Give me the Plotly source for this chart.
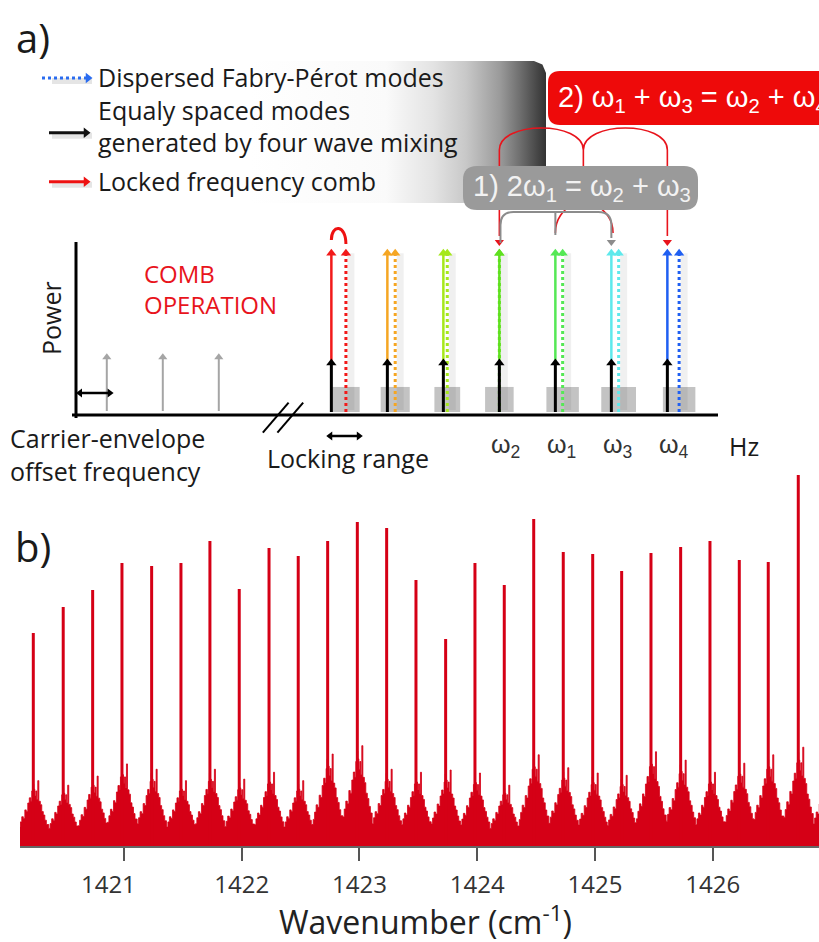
import plotly.graph_objects as go

W, H = 819, 942

# ---------------- Panel b data (wavenumber spectrum) ----------------
peak_wn = [1420.230, 1420.484, 1420.734, 1420.983, 1421.235, 1421.484, 1421.730,
           1421.979, 1422.232, 1422.480, 1422.730, 1422.982, 1423.231, 1423.480,
           1423.732, 1423.981, 1424.230, 1424.480, 1424.731, 1424.981, 1425.227,
           1425.476, 1425.728, 1425.977, 1426.226, 1426.472, 1426.727]
peak_height = [213, 239, 256, 283, 280, 283, 305, 257, 298, 290, 305, 324, 318, 266,
               207, 283, 261, 327, 294, 292, 275, 293, 299, 305, 286, 284, 371]
# background cluster (four-wave-mixing side structure) around every comb line
cluster_center = peak_wn + [1426.977]
cluster_scale = [0.86, 0.80, 0.92, 1.08, 1.01, 0.86, 1.01, 0.88, 0.97, 0.86, 1.21, 1.32,
                 1.01, 0.97, 1.00, 0.96, 0.80, 1.20, 1.03, 0.96, 0.93, 1.24, 1.13, 0.97,
                 1.09, 1.20, 1.30, 1.00]
bg_offset = [-0.123, -0.111, -0.098, -0.085, -0.072, -0.060, -0.047, -0.034, -0.021,
             -0.013, -0.004, 0.004, 0.013, 0.021, 0.030, 0.038, 0.047, 0.060, 0.072,
             0.085, 0.098, 0.111]
bg_height = [22, 28, 34, 32, 42, 40, 50, 56, 52, 64, 72, 66, 58, 64, 54, 76, 52, 48,
             40, 36, 30, 25]
wn_ticks = [1421, 1422, 1423, 1424, 1425, 1426]
wn_ticktext = ['1421\u00a0\u00a0\u00a0\u00a0\u00a0', '1422', '1423', '1424', '1425', '1426']
wn_range = [1420.117, 1426.903]

# ---------------- Panel a data (schematic, arbitrary units) ----------------
free_modes = [0.55, 1.55, 2.55]                 # modes left of the axis break
comb_freq = [4.56, 5.56, 6.56, 7.56, 8.56, 9.56, 10.56]   # equally spaced (FWM / locked)
fp_freq = [4.82, 5.70, 6.63, 7.56, 8.69, 9.69, 10.77]     # dispersed Fabry-Perot modes
lock_width = [0.49, 0.52, 0.46, 0.51, 0.58, 0.62, 0.58]
mode_colors = ['#f21a1a', '#f5a623', '#a6e81c', '#5fe01f', '#55e855', '#5ee9ec', '#1f5ff2']
mode_labels = ['', '', '', 'ω<sub>2</sub>', 'ω<sub>1</sub>', 'ω<sub>3</sub>', 'ω<sub>4</sub>']
fwm_power = 0.315
comb_power = 1.0
free_power = 0.35
lock_box_top = 0.17

RED = '#d50016'
TXT = '#1a1a1a'

# pixel helpers (layout only)
def fx(px): return px / W
def fy(py): return 1 - py / H
X0, XS, Y0, YS = 76.0, 56.0, 415.0, 165.0
def U(px): return (px - X0) / XS
def V(py): return (Y0 - py) / YS
def PX(u): return X0 + XS * u

fig = go.Figure()

# ---------------- Panel b traces ----------------
bg_x, bg_y = [], []
for c, s in zip(cluster_center, cluster_scale):
    for o, h in zip(bg_offset, bg_height):
        bg_x.append(c + o)
        bg_y.append(h * s)
fig.add_trace(go.Scatter(x=bg_x, y=bg_y, mode='lines', fill='tozeroy', fillcolor=RED,
                         line=dict(color=RED, width=0.8, shape='hv'),
                         hoverinfo='skip', showlegend=False, xaxis='x', yaxis='y'))
pk_x, pk_y = [], []
for p, h in zip(peak_wn, peak_height):
    pk_x += [p, p, None]
    pk_y += [0, h, None]
fig.add_trace(go.Scatter(x=pk_x, y=pk_y, mode='lines', line=dict(color=RED, width=3),
                         hoverinfo='skip', showlegend=False, xaxis='x', yaxis='y'))

# ---------------- Panel a helpers ----------------
def line2(xs, ys, color, width=3, dash='solid'):
    fig.add_trace(go.Scatter(x=xs, y=ys, mode='lines',
                             line=dict(color=color, width=width, dash=dash),
                             hoverinfo='skip', showlegend=False, xaxis='x2', yaxis='y2'))

def head(x, y, color, symbol, size=9):
    fig.add_trace(go.Scatter(x=[x], y=[y], mode='markers',
                             marker=dict(symbol=symbol, size=size, color=color, line=dict(width=0)),
                             hoverinfo='skip', showlegend=False, xaxis='x2', yaxis='y2'))

def arrow_up(x, y0, y1, color, width=3, dash='solid', size=9):
    line2([x, x], [y0, y1], color, width, dash)
    head(x, y1, color, 'triangle-up', size)

def arrow_h(x0, x1, y, color, width=3, dash='solid', both=False, size=9):
    line2([x0, x1], [y, y], color, width, dash)
    head(x1, y, color, 'triangle-right', size)
    if both:
        head(x0, y, color, 'triangle-left', size)

# legend gradient box (trace with horizontal fill gradient)
bl, br, bt, bb, rr = 250, 546, 61, 203, 12
box_px = [(bl, bt), (br - rr, bt), (br - rr * 0.3, bt + rr * 0.3), (br, bt + rr), (br, bb), (bl, bb), (bl, bt)]
fig.add_trace(go.Scatter(x=[U(p[0]) for p in box_px], y=[V(p[1]) for p in box_px],
                         mode='lines', line=dict(width=0), fill='toself',
                         fillgradient=dict(type='horizontal', start=U(bl), stop=U(br),
                                           colorscale=[[0, '#ffffff'], [0.46, '#fafafa'],
                                                       [0.62, '#e3e3e3'], [0.73, '#c8c8c8'],
                                                       [0.845, '#9a9a9a'], [0.91, '#707070'],
                                                       [0.98, '#404040'], [1, '#333333']]),
                         hoverinfo='skip', showlegend=False, xaxis='x2', yaxis='y2'))

# legend symbols (with soft shadows)
for yy in [78, 132.7, 181.7]:
    line2([U(52), U(92)], [V(yy + 3), V(yy + 3)], 'rgba(0,0,0,0.10)', 6)
arrow_h(U(42), U(88), V(78), '#2a6cf0', width=3, dash='dot')
arrow_h(U(49), U(86), V(132.7), '#111111', width=3)
arrow_h(U(49), U(86), V(181.7), '#ee1111', width=3)

# diagram axes
line2([0, 0], [V(418), V(242)], '#000000', 3)
line2([U(72), U(718)], [0, 0], '#000000', 3)
axis_break = U(283)
for d in [-0.13, 0.13]:
    line2([axis_break + d - 0.23, axis_break + d + 0.23], [-0.107, 0.075], '#000000', 2)

# free-running (below the break) modes
for f in free_modes:
    arrow_up(f, V(411), free_power, '#a5a5a5', width=2, size=8)
# carrier-envelope offset arrow
arrow_h(U(80), free_modes[0] + 0.05, V(393), '#000000', width=2.5, both=True, size=8)
# locking range arrow
arrow_h(comb_freq[0] - 0.02, comb_freq[0] + 0.49, V(436), '#000000', width=2.5, both=True, size=8)

# comb modes: soft shadows first
sh = 5 / XS
for cf, ff in zip(comb_freq, fp_freq):
    line2([ff + sh, ff + sh], [V(410), comb_power - 0.02], 'rgba(0,0,0,0.06)', 7)
for i, (cf, ff, col) in enumerate(zip(comb_freq, fp_freq, mode_colors)):
    arrow_up(ff, V(412), comb_power - 0.02, col, width=3, dash='dot', size=9)
    arrow_up(cf, fwm_power, comb_power - 0.02, col, width=2.5, size=9)
    arrow_up(cf, V(412), fwm_power, '#000000', width=3, size=9)

shapes = []
for ff, w in zip(fp_freq, lock_width):
    shapes.append(dict(type='rect', xref='x2', yref='y2', x0=ff - w / 2, x1=ff + w / 2,
                       y0=V(412), y1=lock_box_top, fillcolor='rgba(175,175,175,0.75)',
                       line=dict(width=0), layer='below'))

def P(u, py):
    return f"{u:.4f},{V(py):.4f}"

w2, w1, w3, w4 = comb_freq[3], comb_freq[4], comb_freq[5], comb_freq[6]
mid = (w1 + w3) / 2
red_path = (f"M{P(w2,236)} L{P(w2,150)} C{P(w2,120.7)} {P(mid,120.7)} {P(mid,150)} "
            f"C{P(mid,120.7)} {P(w4,120.7)} {P(w4,150)} L{P(w4,236)} "
            f"M{P(mid,150)} L{P(mid,185)} C{P(mid,205)} {P(w1,205)} {P(w1,233)} "
            f"M{P(mid,185)} C{P(mid,205)} {P(w3+0.03,205)} {P(w3+0.03,233)}")
shapes.append(dict(type='path', xref='x2', yref='y2', path=red_path,
                   line=dict(color='#e8141c', width=1.6)))
head(w2, V(242), '#e8141c', 'triangle-down', 8)
head(w4, V(242), '#e8141c', 'triangle-down', 8)

def rrect(x0, y0, x1, y1, r):
    q = lambda x, y: f"{fx(x):.5f},{fy(y):.5f}"
    return (f"M{q(x0+r,y0)} L{q(x1-r,y0)} Q{q(x1,y0)} {q(x1,y0+r)} L{q(x1,y1-r)} "
            f"Q{q(x1,y1)} {q(x1-r,y1)} L{q(x0+r,y1)} Q{q(x0,y1)} {q(x0,y1-r)} "
            f"L{q(x0,y0+r)} Q{q(x0,y0)} {q(x0+r,y0)} Z")

shapes.append(dict(type='path', xref='paper', yref='paper', path=rrect(463, 166, 698, 210, 14),
                   fillcolor='#9a9a9a', line=dict(width=0)))
shapes.append(dict(type='path', xref='paper', yref='paper', path=rrect(548, 71, 850, 125, 12),
                   fillcolor='#ee0a0a', line=dict(width=0)))
gray_path = (f"M{P(w2+0.02,243)} L{P(w2+0.02,225)} Q{P(w2+0.02,212)} {P(w2+0.25,212)} "
             f"L{P(w3-0.23,212)} Q{P(w3,212)} {P(w3,225)} L{P(w3,238)} "
             f"M{P(w1,212)} L{P(w1,235)}")
shapes.append(dict(type='path', xref='x2', yref='y2', path=gray_path,
                   line=dict(color='#8c8c8c', width=2)))
head(w3, V(242), '#8c8c8c', 'triangle-down', 8)
hook = f"M{P(comb_freq[0],240)} C{P(comb_freq[0],224)} {P(fp_freq[0],224)} {P(fp_freq[0],244)}"
shapes.append(dict(type='path', xref='x2', yref='y2', path=hook,
                   line=dict(color='#ee1111', width=3)))

# ---------------- annotations ----------------
ann = []
def txt(s, px, py, size, color=TXT, xa='center', ya='middle', fam='Open Sans', angle=0, align='left'):
    ann.append(dict(text=s, x=fx(px), y=fy(py), xref='paper', yref='paper', showarrow=False,
                    xanchor=xa, yanchor=ya, textangle=angle, align=align,
                    font=dict(size=size, color=color, family=fam)))

txt('a)', 33, 38, 40)
txt('b)', 33, 546, 40)
txt('Dispersed Fabry-Pérot modes<br>Equaly spaced modes<br>generated by four wave mixing',
    96, 110, 25, xa='left')
txt('Locked frequency comb', 96, 181, 25, xa='left')
txt('Power', 51, 318, 25, angle=-90)
txt('COMB<br>OPERATION', 142, 289, 24, color='#e8141c', xa='left')
txt('Carrier-envelope<br>offset frequency', 8, 454, 25, xa='left')
txt('Locking range', 265, 458, 25, xa='left')
txt('Hz', 744, 446, 25)
for cf, lab in zip(comb_freq, mode_labels):
    if lab:
        txt(lab, PX(cf) - 10, 446, 25, color='#333333', xa='left', fam='Liberation Sans')
txt('2) ω<sub>1</sub> + ω<sub>3</sub> = ω<sub>2</sub> + ω<sub>4</sub>', 556, 99, 29,
    color='#ffffff', xa='left', fam='Liberation Sans')
txt('1) 2ω<sub>1</sub> = ω<sub>2</sub> + ω<sub>3</sub>', 471, 188, 29,
    color='#f2f2f2', xa='left', fam='Liberation Sans')
txt('Wavenumber (cm<sup>-1</sup>)', 425, 920, 32, color='#222222')

fig.update_layout(
    width=W, height=H, autosize=False,
    margin=dict(l=0, r=0, t=0, b=0),
    paper_bgcolor='white', plot_bgcolor='rgba(0,0,0,0)',
    showlegend=False,
    shapes=shapes, annotations=ann,
    xaxis=dict(domain=[fx(20), 1], range=wn_range, anchor='y',
               tickvals=wn_ticks, ticktext=wn_ticktext,
               ticks='outside', ticklen=13, tickwidth=2, tickcolor='#555555',
               showline=True, linecolor='#666666', linewidth=2,
               showgrid=False, zeroline=False, automargin=False,
               ticklabelstandoff=3,
               tickfont=dict(size=24, color='#333333', family='Open Sans')),
    yaxis=dict(domain=[fy(846), fy(470)], range=[0, 376], visible=False, anchor='x'),
    xaxis2=dict(domain=[0, 1], range=[U(0), U(W)], visible=False, anchor='y2'),
    yaxis2=dict(domain=[0, 1], range=[V(H), V(0)], visible=False, anchor='x2'),
)

fig.write_html('out.html')
